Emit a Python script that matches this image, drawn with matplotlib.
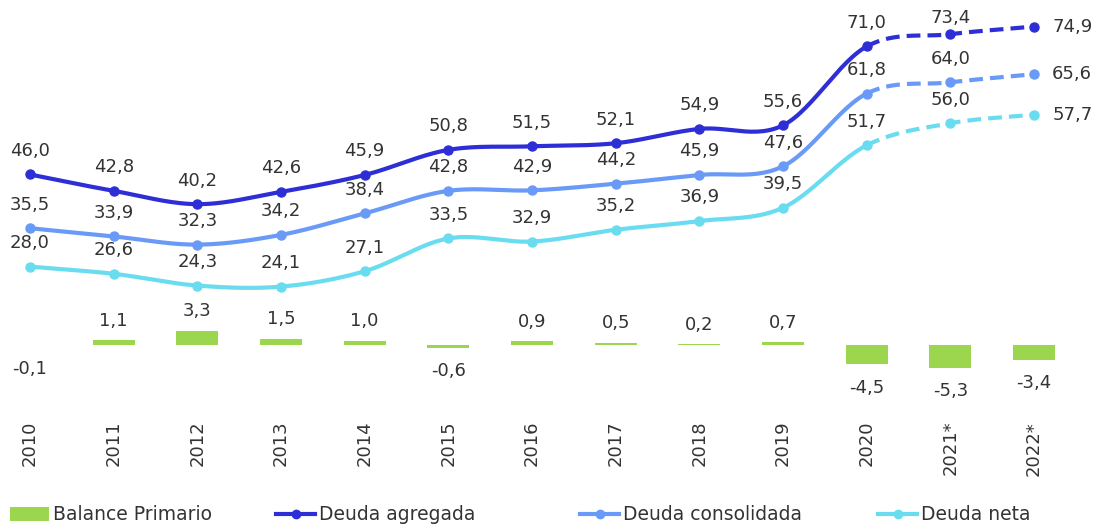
import numpy as np
import matplotlib
matplotlib.use('Agg')
import matplotlib.pyplot as plt
from matplotlib.lines import Line2D
from matplotlib.patches import Patch

years = ['2010', '2011', '2012', '2013', '2014', '2015', '2016', '2017',
         '2018', '2019', '2020', '2021*', '2022*']
deuda_agregada = [46.0, 42.8, 40.2, 42.6, 45.9, 50.8, 51.5, 52.1, 54.9, 55.6, 71.0, 73.4, 74.9]
deuda_consolidada = [35.5, 33.9, 32.3, 34.2, 38.4, 42.8, 42.9, 44.2, 45.9, 47.6, 61.8, 64.0, 65.6]
deuda_neta = [28.0, 26.6, 24.3, 24.1, 27.1, 33.5, 32.9, 35.2, 36.9, 39.5, 51.7, 56.0, 57.7]
balance_primario = [-0.1, 1.1, 3.3, 1.5, 1.0, -0.6, 0.9, 0.5, 0.2, 0.7, -4.5, -5.3, -3.4]

c_agr = '#2E2ED6'
c_con = '#6A9AF7'
c_net = '#6ADCF0'
c_bal = '#9CD64F'
txt = '#333333'


def fmt(v):
    return ('%.1f' % v).replace('.', ',')


def smooth(x, y, n=30):
    # catmull-rom like excel smoothed lines
    x = np.asarray(x, float)
    y = np.asarray(y, float)
    px = np.concatenate([[2 * x[0] - x[1]], x, [2 * x[-1] - x[-2]]])
    py = np.concatenate([[2 * y[0] - y[1]], y, [2 * y[-1] - y[-2]]])
    xs, ys = [], []
    for i in range(1, len(px) - 2):
        t = np.linspace(0, 1, n)
        b1x = px[i] + (px[i + 1] - px[i - 1]) / 6
        b1y = py[i] + (py[i + 1] - py[i - 1]) / 6
        b2x = px[i + 1] - (px[i + 2] - px[i]) / 6
        b2y = py[i + 1] - (py[i + 2] - py[i]) / 6
        bx = (1 - t) ** 3 * px[i] + 3 * (1 - t) ** 2 * t * b1x + 3 * (1 - t) * t ** 2 * b2x + t ** 3 * px[i + 1]
        by = (1 - t) ** 3 * py[i] + 3 * (1 - t) ** 2 * t * b1y + 3 * (1 - t) * t ** 2 * b2y + t ** 3 * py[i + 1]
        xs.append(bx)
        ys.append(by)
    return xs, ys


W, H = 1097, 527
fig = plt.figure(figsize=(W / 100, H / 100), dpi=100)
top_px, bot_px = 5, 400
ax2 = fig.add_axes([0, 1 - bot_px / H, 1, (bot_px - top_px) / H])
ax = ax2.twinx()

x = np.arange(len(years))
xlim = (-30 / 83.67, (W - 30) / 83.67)

# bars (secondary scale)
ax2.bar(x, balance_primario, width=0.5, color=c_bal, zorder=1)
ax2.set_ylim(-12.8, 79.1)
for xi, v in zip(x, balance_primario):
    if v >= 0:
        ax2.annotate(fmt(v), (xi, v), xytext=(0, 14), textcoords='offset points',
                     ha='center', va='center', fontsize=13, color=txt)
    else:
        ax2.annotate(fmt(v), (xi, v), xytext=(0, -17), textcoords='offset points',
                     ha='center', va='center', fontsize=13, color=txt)

# lines
ax.set_ylim(1.95, 79.1)
nsolid = 10
for vals, col in [(deuda_agregada, c_agr), (deuda_consolidada, c_con), (deuda_neta, c_net)]:
    xs, ys = smooth(x, vals)
    sx = np.concatenate(xs[:nsolid])
    sy = np.concatenate(ys[:nsolid])
    dx = np.concatenate(xs[nsolid:])
    dy = np.concatenate(ys[nsolid:])
    ax.plot(sx, sy, color=col, lw=3, solid_capstyle='round')
    ax.plot(dx, dy, color=col, lw=3, ls=(0, (3.3, 1.7)))
    ax.plot(x, vals, 'o', color=col, ms=6.5)
    for xi, v in zip(x, vals):
        if xi == len(x) - 1:
            ax.annotate(fmt(v), (xi, v), xytext=(13, 0), textcoords='offset points',
                        ha='left', va='center', fontsize=13, color=txt)
        else:
            dy_lab = 12 if (xi == len(x) - 2 and col == c_agr) else 17
            ax.annotate(fmt(v), (xi, v), xytext=(0, dy_lab), textcoords='offset points',
                        ha='center', va='center', fontsize=13, color=txt)

for a in (ax, ax2):
    a.set_xlim(*xlim)
    for s in a.spines.values():
        s.set_visible(False)
    a.set_yticks([])
ax2.set_xticks(x)
ax2.set_xticklabels(years, rotation=90, fontsize=13, color=txt, va='top')
ax2.tick_params(axis='x', length=0, pad=15)

# legend
items = [
    (Patch(facecolor=c_bal), 'Balance Primario', 10),
    (Line2D([], [], color=c_agr, lw=3, marker='o', ms=6), 'Deuda agregada', 276),
    (Line2D([], [], color=c_con, lw=3, marker='o', ms=6), 'Deuda consolidada', 580),
    (Line2D([], [], color=c_net, lw=3, marker='o', ms=6), 'Deuda neta', 878),
]
for h, lab, px in items:
    leg = fig.legend([h], [lab], loc='center left', bbox_to_anchor=(px / W, 1 - 515 / H),
                     frameon=False, fontsize=13.5, handlelength=2.1, handleheight=0.8,
                     handletextpad=0.2, borderpad=0, borderaxespad=0)
    for t in leg.get_texts():
        t.set_color(txt)

fig.savefig('out.png', dpi=100)
